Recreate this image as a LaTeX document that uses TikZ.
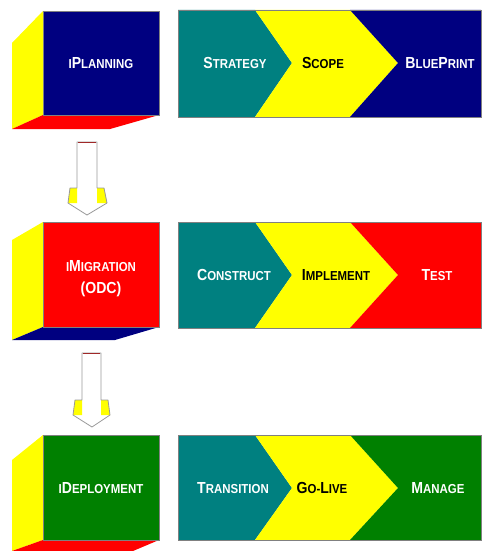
\documentclass[tikz,border=0pt]{standalone}
\usepackage{fontspec}
\newfontfamily\lblfont[FakeStretch=0.88]{Liberation Sans}
\newcommand\BC[1]{{\fontsize{16}{16}\selectfont #1}}
\newcommand\SC[1]{{\fontsize{13}{13}\selectfont #1}}
\definecolor{navyc}{RGB}{0,0,128}
\definecolor{tealc}{RGB}{0,128,128}
\definecolor{yelc}{RGB}{255,255,0}
\definecolor{redc}{RGB}{255,0,0}
\definecolor{greenc}{RGB}{0,128,0}
\definecolor{capc}{RGB}{160,40,40}
\begin{document}
\begin{tikzpicture}[x=1pt,y=-1pt,
  lbl/.style={font=\lblfont\bfseries, inner sep=0pt, align=center},
  wlbl/.style={lbl, text=white},
  blbl/.style={lbl, text=black},
  boxedge/.style={draw=black!50, line width=0.6pt},
  arrowline/.style={draw=black!40, line width=0.8pt, line join=round},
]
\useasboundingbox (0,0) rectangle (482,551);

% Row 1 cube
\fill[yelc] (43,11) -- (12,43) -- (12,129) -- (43,115) -- cycle;
\fill[redc] (43,115) -- (159,115) -- (110,129) -- (12,129) -- cycle;
\filldraw[fill=navyc, boxedge] (43,11) rectangle (159,115);
\node[wlbl] (plan) at (101,63) {\SC{I}\BC{P}\SC{LANNING}};

% Row 2 cube
\fill[yelc] (43,222) -- (12,240) -- (12,340) -- (43,327) -- cycle;
\fill[navyc] (43,327) -- (159,327) -- (115,340) -- (12,340) -- cycle;
\filldraw[fill=redc, boxedge] (43,222) rectangle (159,327);
\node[wlbl] (migr) at (101,266) {\SC{I}\BC{M}\SC{IGRATION}};
\node[wlbl] (odc) at (101,289) {\BC{(ODC)}};

% Row 3 cube
\fill[yelc] (43,435) -- (12,460) -- (12,551) -- (43,540) -- cycle;
\fill[redc] (43,540) -- (159,540) -- (133,551) -- (12,551) -- cycle;
\filldraw[fill=greenc, boxedge] (43,435) rectangle (159,540);
\node[wlbl] (depl) at (101,488) {\SC{I}\BC{D}\SC{EPLOYMENT}};

% Row 1 chevrons
\fill[tealc] (178,10) -- (255,10) -- (292,63) -- (255,117) -- (178,117) -- cycle;
\fill[yelc] (255,10) -- (350,10) -- (398,63) -- (350,117) -- (255,117) -- (292,63) -- cycle;
\fill[navyc] (350,10) -- (481,10) -- (481,117) -- (350,117) -- (398,63) -- cycle;
\draw[boxedge] (178,10) rectangle (481,117);
\node[wlbl] (strat) at (235,63) {\BC{S}\SC{TRATEGY}};
\node[blbl] (scope) at (323,63) {\BC{S}\SC{COPE}};
\node[wlbl] (blue) at (440,63) {\BC{B}\SC{LUE}\BC{P}\SC{RINT}};

% Row 2 chevrons
\fill[tealc] (178,222) -- (255,222) -- (292,275) -- (255,328) -- (178,328) -- cycle;
\fill[yelc] (255,222) -- (350,222) -- (398,275) -- (350,328) -- (255,328) -- (292,275) -- cycle;
\fill[redc] (350,222) -- (481,222) -- (481,328) -- (350,328) -- (398,275) -- cycle;
\draw[boxedge] (178,222) rectangle (481,328);
\node[wlbl] (cons) at (234,275) {\BC{C}\SC{ONSTRUCT}};
\node[blbl] (impl) at (336,275) {\BC{I}\SC{MPLEMENT}};
\node[wlbl] (test) at (437,275) {\BC{T}\SC{EST}};

% Row 3 chevrons
\fill[tealc] (178,435) -- (255,435) -- (292,488) -- (255,540) -- (178,540) -- cycle;
\fill[yelc] (255,435) -- (350,435) -- (398,488) -- (350,540) -- (255,540) -- (292,488) -- cycle;
\fill[greenc] (350,435) -- (481,435) -- (481,540) -- (350,540) -- (398,488) -- cycle;
\draw[boxedge] (178,435) rectangle (481,540);
\node[wlbl] (trans) at (233,488) {\BC{T}\SC{RANSITION}};
\node[blbl] (golive) at (322,488) {\BC{G}\SC{O-}\BC{L}\SC{IVE}};
\node[wlbl] (manage) at (438,488) {\BC{M}\SC{ANAGE}};

% Arrow 1
\fill[yelc] (70,188) -- (77,188) -- (77,203) -- (68,203) -- cycle;
\fill[yelc] (97,188) -- (104,188) -- (107,203) -- (97,203) -- cycle;
\draw[arrowline] (77,142) -- (77,188) -- (70,188) -- (68,203) -- (87,215) -- (107,203) -- (104,188) -- (97,188) -- (97,142) -- cycle;
\draw[capc, line width=1.6pt] (78,142.5) -- (96,142.5);

% Arrow 2
\fill[yelc] (75,400) -- (82,400) -- (82,415) -- (73,415) -- cycle;
\fill[yelc] (101,400) -- (108,400) -- (110,415) -- (101,415) -- cycle;
\draw[arrowline] (82,353) -- (82,400) -- (75,400) -- (73,415) -- (92,427) -- (110,415) -- (108,400) -- (101,400) -- (101,353) -- cycle;
\draw[capc, line width=1.6pt] (83,353.5) -- (100,353.5);
\end{tikzpicture}
\end{document}
